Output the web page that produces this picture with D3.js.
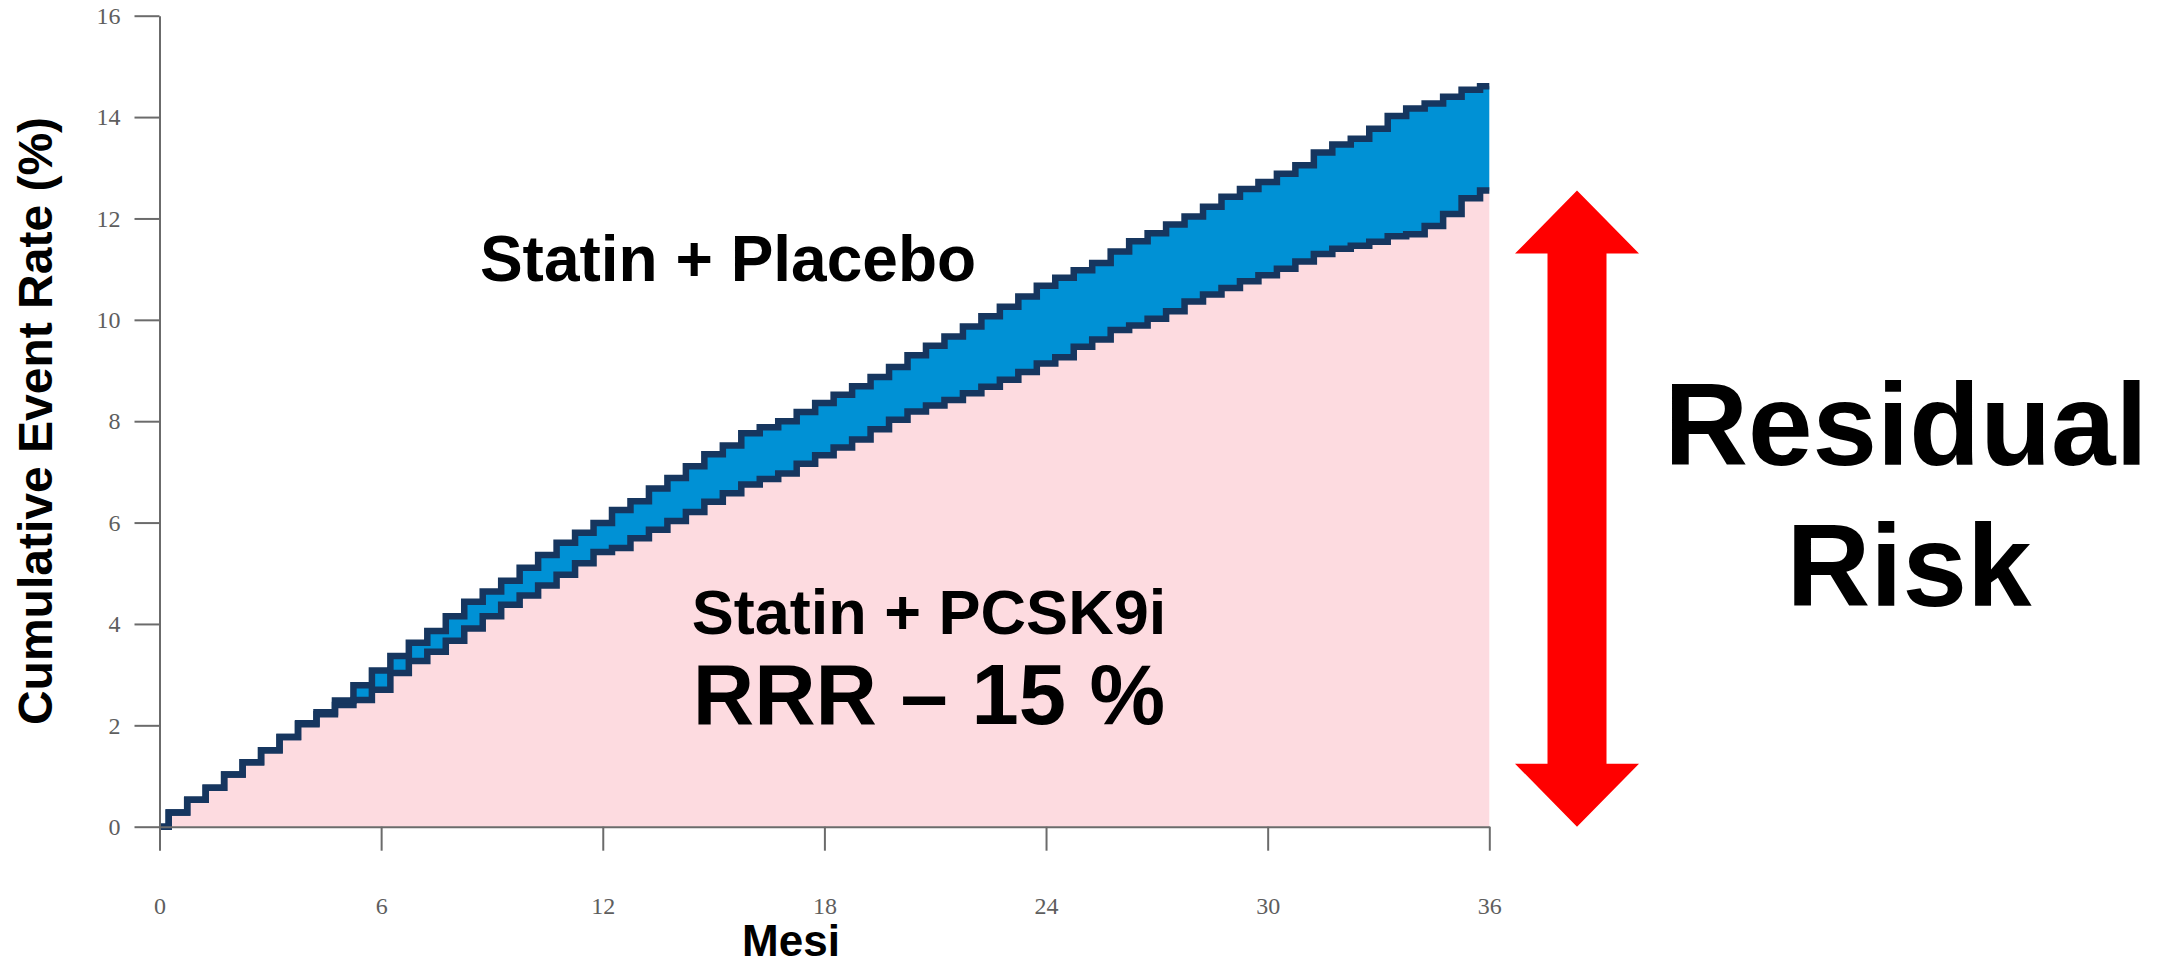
<!DOCTYPE html>
<html>
<head>
<meta charset="utf-8">
<script src="https://cdn.jsdelivr.net/npm/d3@7/dist/d3.min.js"></script>
<style>
  html, body { margin: 0; padding: 0; background: #fff; }
  svg { display: block; }
  .axis path, .axis line { stroke: #6b6b6b; stroke-width: 2; }
  .axis text { fill: #5e5e5e; font-family: "Liberation Serif", "DejaVu Serif", serif; font-size: 24px; }
  .lbl { font-family: "Liberation Sans", Arial, sans-serif; font-weight: bold; fill: #000; }
</style>
</head>
<body>
<svg id="chart" width="2174" height="967"></svg>
<script>
// ---- data ----
const months = d3.range(0, 36.5, 0.5); // 0, 0.5, ... 36
const placebo = [
  0.00, 0.28, 0.53, 0.77, 1.03, 1.27, 1.51, 1.77, 2.04, 2.26,
  2.49, 2.79, 3.08, 3.37, 3.63, 3.86, 4.15, 4.44, 4.64, 4.85,
  5.11, 5.36, 5.60, 5.80, 5.99, 6.25, 6.42, 6.67, 6.88, 7.11,
  7.35, 7.52, 7.76, 7.88, 8.00, 8.18, 8.36, 8.52, 8.69, 8.87,
  9.07, 9.30, 9.49, 9.67, 9.87, 10.07, 10.26, 10.46, 10.67, 10.83,
  10.98, 11.12, 11.35, 11.55, 11.71, 11.88, 12.04, 12.23, 12.43, 12.58,
  12.72, 12.88, 13.05, 13.30, 13.46, 13.57, 13.77, 14.02, 14.17, 14.27,
  14.40, 14.54, 14.61
];
const pcsk9i = [
  0.00, 0.28, 0.53, 0.77, 1.03, 1.27, 1.51, 1.77, 2.02, 2.22,
  2.40, 2.50, 2.70, 3.03, 3.27, 3.45, 3.67, 3.91, 4.15, 4.38,
  4.56, 4.76, 4.97, 5.20, 5.42, 5.50, 5.69, 5.86, 6.03, 6.21,
  6.41, 6.58, 6.75, 6.86, 6.97, 7.16, 7.33, 7.48, 7.64, 7.84,
  8.03, 8.19, 8.31, 8.42, 8.55, 8.68, 8.82, 8.97, 9.14, 9.26,
  9.47, 9.61, 9.80, 9.89, 10.02, 10.17, 10.36, 10.50, 10.63, 10.76,
  10.88, 11.01, 11.15, 11.30, 11.40, 11.46, 11.54, 11.65, 11.69, 11.85,
  12.09, 12.40, 12.55
];
const xTicks = [0, 6, 12, 18, 24, 30, 36];
const yTicks = [0, 2, 4, 6, 8, 10, 12, 14, 16];
const labels = {
  yTitle: "Cumulative Event Rate (%)",
  xTitle: "Mesi",
  placebo: "Statin + Placebo",
  pcsk9i: "Statin + PCSK9i",
  rrr: "RRR \u2013 15 %",
  risk1: "Residual",
  risk2: "Risk"
};

// ---- drawing ----
const svg = d3.select("#chart");
const x = d3.scaleLinear().domain([0, 36]).range([159.5, 1489.3]);
const y = d3.scaleLinear().domain([0, 16]).range([826.7, 15.7]);

const rows = months.map((m, i) => ({ m, top: placebo[i], low: pcsk9i[i] }));
const curve = d3.curveStep;

// pink area under treated curve
svg.append("path")
  .datum(rows)
  .attr("fill", "#fddbe0")
  .attr("d", d3.area().curve(curve)
    .x(d => x(d.m)).y0(y(0)).y1(d => y(d.low)));

// blue band between curves
svg.append("path")
  .datum(rows)
  .attr("fill", "#0091d5")
  .attr("d", d3.area().curve(curve)
    .x(d => x(d.m)).y0(d => y(d.low)).y1(d => y(d.top)));

// step lines
const stepLine = key => d3.line().curve(curve).x(d => x(d.m)).y(d => y(d[key]));
["low", "top"].forEach(k => {
  svg.append("path")
    .datum(rows)
    .attr("fill", "none")
    .attr("stroke", "#16365f")
    .attr("stroke-width", 6.5)
    .attr("d", stepLine(k));
});

// axes
svg.append("g")
  .attr("class", "axis")
  .attr("transform", `translate(0,${y(0)})`)
  .call(d3.axisBottom(x).tickValues(xTicks).tickSize(24).tickSizeOuter(0).tickPadding(46).tickFormat(d3.format("d")));

svg.append("g")
  .attr("class", "axis")
  .attr("transform", `translate(${x(0)},0)`)
  .call(d3.axisLeft(y).tickValues(yTicks).tickSize(25).tickSizeOuter(0).tickPadding(14).tickFormat(d3.format("d")));

// axis titles
svg.append("text").attr("class", "lbl")
  .attr("transform", "translate(52,421) rotate(-90)")
  .attr("text-anchor", "middle")
  .style("font-size", "48px")
  .text(labels.yTitle);

svg.append("text").attr("class", "lbl")
  .attr("x", 791).attr("y", 956)
  .attr("text-anchor", "middle")
  .style("font-size", "44px")
  .text(labels.xTitle);

// in-chart labels
svg.append("text").attr("class", "lbl")
  .attr("x", 728).attr("y", 281)
  .attr("text-anchor", "middle")
  .style("font-size", "64px")
  .text(labels.placebo);

svg.append("text").attr("class", "lbl")
  .attr("x", 929).attr("y", 634)
  .attr("text-anchor", "middle")
  .style("font-size", "63px")
  .text(labels.pcsk9i);

svg.append("text").attr("class", "lbl")
  .attr("x", 929).attr("y", 724)
  .attr("text-anchor", "middle")
  .style("font-size", "85px")
  .text(labels.rrr);

// residual risk double arrow (spans 0 .. final treated rate)
const ax = 1577, headHalf = 62, shaftHalf = 29.5, headH = 63;
const yTop = y(pcsk9i[pcsk9i.length - 1]), yBot = y(0);
const arrowPts = [
  [ax, yTop],
  [ax + headHalf, yTop + headH],
  [ax + shaftHalf, yTop + headH],
  [ax + shaftHalf, yBot - headH],
  [ax + headHalf, yBot - headH],
  [ax, yBot],
  [ax - headHalf, yBot - headH],
  [ax - shaftHalf, yBot - headH],
  [ax - shaftHalf, yTop + headH],
  [ax - headHalf, yTop + headH]
];
svg.append("path")
  .attr("fill", "#ff0000")
  .attr("d", d3.line()(arrowPts) + "Z");

svg.append("text").attr("class", "lbl")
  .attr("x", 1906).attr("y", 465)
  .attr("text-anchor", "middle")
  .style("font-size", "116px")
  .text(labels.risk1);

svg.append("text").attr("class", "lbl")
  .attr("x", 1909).attr("y", 606)
  .attr("text-anchor", "middle")
  .style("font-size", "116px")
  .text(labels.risk2);
</script>
</body>
</html>
